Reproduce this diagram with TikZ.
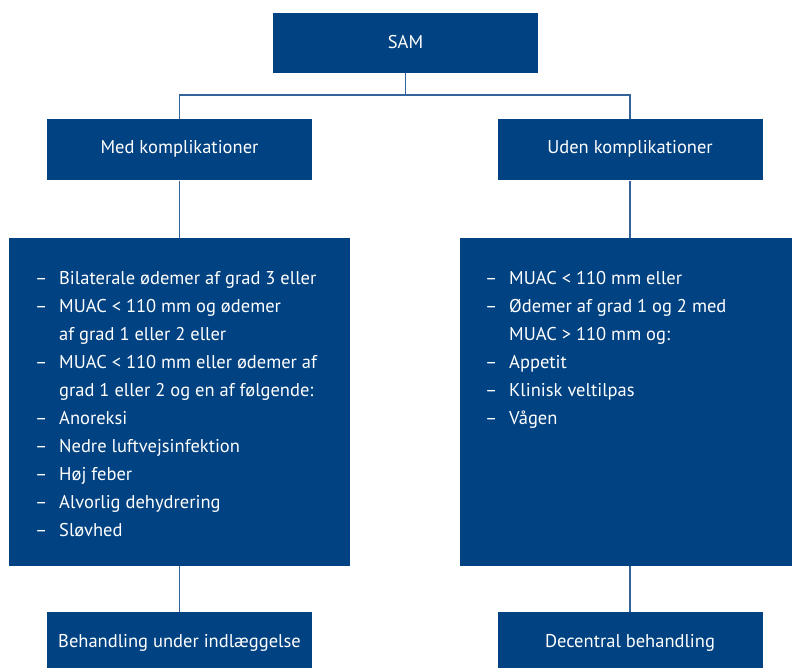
\documentclass[tikz,border=0pt]{standalone}
\usepackage{fontspec}
\setmainfont{PT Sans}
\usetikzlibrary{backgrounds}
\definecolor{sblue}{RGB}{0,66,130}
\definecolor{lblue}{RGB}{50,100,155}
\begin{document}
\begin{tikzpicture}[x=1pt,y=-1pt,
  box/.style={fill=sblue, text=white, inner sep=0pt},
  label/.style={text=white, inner sep=0pt, text height=0.7em, text depth=0pt, font=\fontsize{18.5}{22}\selectfont},
  listtext/.style={text=white, inner sep=0pt, align=left, anchor=base west, font=\fontsize{18.5}{28}\selectfont},
  conn/.style={draw=lblue, line width=1.3pt}]
\useasboundingbox (0,0) rectangle (792,668);
\node[box, minimum width=265pt, minimum height=60pt] (sam) at (405.5,43) {};
\node[box, minimum width=265pt, minimum height=61pt] (med) at (179.5,150) {};
\node[box, minimum width=265pt, minimum height=61pt] (uden) at (630,150) {};
\node[box, minimum width=341pt, minimum height=328pt] (bigL) at (179.5,402) {};
\node[box, minimum width=332pt, minimum height=328pt] (bigR) at (626,402) {};
\node[box, minimum width=265pt, minimum height=56pt] (medb) at (179.5,640) {};
\node[box, minimum width=265pt, minimum height=56pt] (udenb) at (630,640) {};
\node[label] (samt) at (405.5,45) {SAM};
\node[label] (medt) at (179.5,150.5) {Med komplikationer};
\node[label] (udent) at (630,150.5) {Uden komplikationer};
\node[label] (medbt) at (179.5,643.5) {Behandling under indlæggelse};
\node[label] (udenbt) at (630,643.5) {Decentral behandling};
\coordinate (fork) at (405.5,95);
\node[listtext] (txtL) at (35,536) {%
\makebox[24pt][l]{–}Bilaterale ødemer af grad 3 eller\\
\makebox[24pt][l]{–}MUAC < 110 mm og ødemer\\
\hspace*{24pt}af grad 1 eller 2 eller\\
\makebox[24pt][l]{–}MUAC < 110 mm eller ødemer af\\
\hspace*{24pt}grad 1 eller 2 og en af følgende:\\
\makebox[24pt][l]{–}Anoreksi\\
\makebox[24pt][l]{–}Nedre luftvejsinfektion\\
\makebox[24pt][l]{–}Høj feber\\
\makebox[24pt][l]{–}Alvorlig dehydrering\\
\makebox[24pt][l]{–}Sløvhed};
\node[listtext] (txtR) at (485,424) {%
\makebox[24pt][l]{–}MUAC < 110 mm eller\\
\makebox[24pt][l]{–}Ødemer af grad 1 og 2 med\\
\hspace*{24pt}MUAC > 110 mm og:\\
\makebox[24pt][l]{–}Appetit\\
\makebox[24pt][l]{–}Klinisk veltilpas\\
\makebox[24pt][l]{–}Vågen};
\begin{scope}[on background layer]
\draw[conn] (sam.south) -- (fork);
\draw[conn] (med.north) |- (fork) -| (uden.north);
\draw[conn] (med.south) -- (medb.north);
\draw[conn] (uden.south) -- (udenb.north);
\end{scope}
\end{tikzpicture}
\end{document}
